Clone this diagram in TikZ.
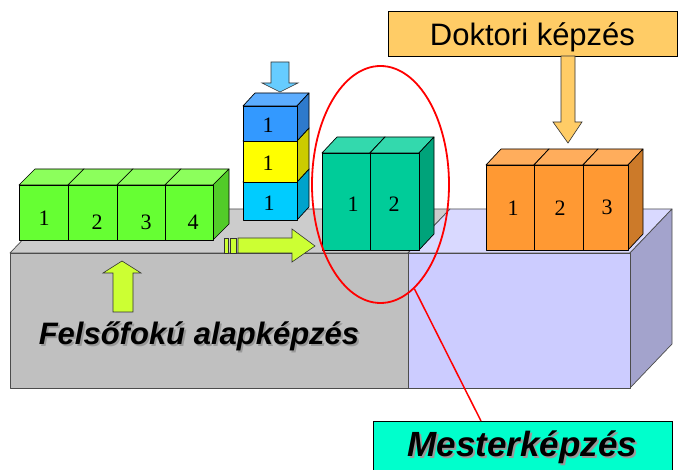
\documentclass[tikz,border=0pt]{standalone}
\usepackage{fontspec}
\setmainfont{Liberation Serif}
\newfontfamily\arialf{Liberation Sans}
\usetikzlibrary{shapes.geometric}
\definecolor{grayfront}{HTML}{C0C0C0}
\definecolor{graytop}{HTML}{CCCCCC}
\definecolor{purfront}{HTML}{CCCCFF}
\definecolor{purtop}{HTML}{D9D9FF}
\definecolor{purside}{HTML}{A3A3CC}
\definecolor{gfront}{HTML}{66FF33}
\definecolor{gtop}{HTML}{8CFF5C}
\definecolor{gside}{HTML}{52CC29}
\definecolor{tfront}{HTML}{00CC99}
\definecolor{ttop}{HTML}{33D9AD}
\definecolor{tside}{HTML}{00A37A}
\definecolor{ofront}{HTML}{FF9933}
\definecolor{otop}{HTML}{FFAD5C}
\definecolor{oside}{HTML}{CC7A29}
\definecolor{bfront}{HTML}{3399FF}
\definecolor{btop}{HTML}{5CADFF}
\definecolor{bside}{HTML}{2E7ACC}
\definecolor{yfront}{HTML}{FFFF00}
\definecolor{yside}{HTML}{CCCC00}
\definecolor{cfront}{HTML}{00CCFF}
\definecolor{cside}{HTML}{00A3CC}
\definecolor{dokfill}{HTML}{FFCC66}
\definecolor{mfill}{HTML}{00FFCC}
\definecolor{lime}{HTML}{CCFF33}
\definecolor{skyarrow}{HTML}{66CCFF}
\newcommand\shadowtext[1]{\leavevmode\rlap{\hspace{1.8pt}\raisebox{-1.8pt}{\color{black!40}#1}}#1}
% x0 y0 x1 y1 dx dy front top side
\newcommand\mycube[9]{%
  \filldraw[edge, fill=#8] (#1,#2) -- (#1+#5,#2-#6) -- (#3+#5,#2-#6) -- (#3,#2) -- cycle;
  \filldraw[edge, fill=#9] (#3,#2) -- (#3+#5,#2-#6) -- (#3+#5,#4-#6) -- (#3,#4) -- cycle;
  \filldraw[edge, fill=#7] (#1,#2) rectangle (#3,#4);
}
\begin{document}
\begin{tikzpicture}[x=1pt,y=-1pt,
  edge/.style={draw=black, line width=0.7pt, line join=round},
  plat/.style={draw=black!70, line width=0.7pt, line join=round},
  num/.style={font=\fontsize{22}{22}\selectfont, inner sep=0pt},
  arr/.style={draw=black!80, line width=0.6pt, line join=miter}]
\clip (0,0) rectangle (681,470);
\fill[white] (0,0) rectangle (681,470);
% platform
\filldraw[plat, fill=graytop] (10,253) -- (52,209) -- (450,209) -- (408,253) -- cycle;
\filldraw[plat, fill=purtop] (408,253) -- (450,209) -- (672,209) -- (630,253) -- cycle;
\filldraw[plat, fill=purside] (630,253) -- (672,209) -- (672,344) -- (630,388) -- cycle;
\filldraw[plat, fill=grayfront] (10,253) rectangle (408,388);
\filldraw[plat, fill=purfront] (408,253) rectangle (630,388);
% green cubes
\mycube{19}{185}{68}{240}{16}{16}{gfront}{gtop}{gside}
\mycube{68}{185}{117}{240}{16}{16}{gfront}{gtop}{gside}
\mycube{117}{185}{165}{240}{16}{16}{gfront}{gtop}{gside}
\mycube{165}{185}{213}{240}{16}{16}{gfront}{gtop}{gside}
\node[num] (g1) at (44,218) {1};
\node[num] (g2) at (97,222) {2};
\node[num] (g3) at (146,222) {3};
\node[num] (g4) at (193,222) {4};
% stack
\mycube{243}{182}{297}{220}{12}{13}{cfront}{cfront}{cside}
\mycube{243}{141}{297}{182}{12}{13}{yfront}{yfront}{yside}
\mycube{243}{106}{297}{141}{12}{13}{bfront}{btop}{bside}
\node[num] (s1) at (268,125) {1};
\node[num] (s2) at (268,163) {1};
\node[num] (s3) at (269,203) {1};
% teal cubes
\mycube{322}{153}{370}{250}{15}{16}{tfront}{ttop}{tside}
\mycube{370}{153}{419}{250}{15}{16}{tfront}{ttop}{tside}
\node[num] (t1) at (353,204) {1};
\node[num] (t2) at (394,204) {2};
% orange cubes
\mycube{486}{165}{534}{250}{15}{16}{ofront}{otop}{oside}
\mycube{534}{165}{583}{250}{15}{16}{ofront}{otop}{oside}
\mycube{583}{165}{628}{250}{15}{16}{ofront}{otop}{oside}
\node[num] (o1) at (513,208) {1};
\node[num] (o2) at (560,208) {2};
\node[num] (o3) at (607,207) {3};
% arrows
\filldraw[arr, fill=skyarrow] (271,62) -- (289,62) -- (289,83) -- (298,83) -- (280,92) -- (262,83) -- (271,83) -- cycle;
\filldraw[arr, fill=lime] (224,238) rectangle (228,253);
\filldraw[arr, fill=lime] (230,238) rectangle (236,253);
\filldraw[arr, fill=lime] (238,238) -- (292,238) -- (292,229) -- (315,246) -- (292,262) -- (292,253) -- (238,253) -- cycle;
\filldraw[arr, fill=lime] (113,312) -- (113,273) -- (103,273) -- (122,261) -- (141,273) -- (133,273) -- (133,312) -- cycle;
% labels
\node[draw=black, line width=0.8pt, fill=dokfill, minimum width=289pt, inner sep=0pt,
  text height=34.7pt, text depth=10.3pt, anchor=base,
  font=\arialf\fontsize{31}{31}\selectfont] (dok) at (532.5,45.7) {Doktori képzés};
\filldraw[arr, fill=dokfill] (561,56) -- (575,56) -- (575,122) -- (582,122) -- (568,143) -- (553,122) -- (561,122) -- cycle;
\node[anchor=base, inner sep=0pt, font=\arialf\bfseries\itshape\fontsize{31}{31}\selectfont] (alap) at (199,345) {\shadowtext{Felsőfokú alapképzés}};
\node[draw=black, line width=0.8pt, fill=mfill, minimum width=299pt, inner sep=0pt,
  text height=36pt, text depth=14pt, anchor=base,
  font=\arialf\bfseries\itshape\fontsize{35}{35}\selectfont] (mester) at (522.5,457) {\shadowtext{Mesterképzés}};
% ellipse and pointer
\node[ellipse, draw=red, line width=1.8pt, minimum width=137pt, minimum height=237pt, inner sep=0pt] (ell) at (380.5,184.5) {};
\coordinate (mtop) at (481,421);
\draw[red, line width=1.5pt] (ell.-72) -- (mtop);
\end{tikzpicture}
\end{document}
